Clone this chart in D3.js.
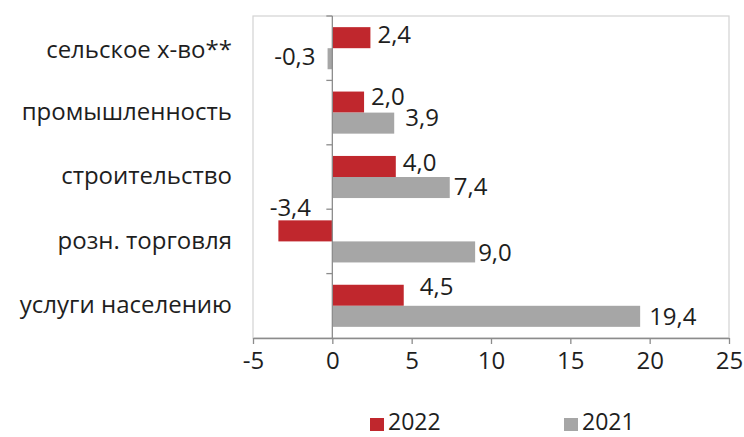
<!DOCTYPE html>
<html><head><meta charset="utf-8">
<script src="https://cdn.jsdelivr.net/npm/d3@7/dist/d3.min.js"></script>
<style>
html,body{margin:0;padding:0;background:#fff;}
svg{display:block;font-family:"Open Sans",sans-serif;}
</style></head>
<body>
<svg id="chart" width="744" height="437"></svg>
<script>
const categories = ["сельское х-во**","промышленность","строительство","розн. торговля","услуги населению"];
const seriesNames = ["2022","2021"];
const values2022 = [2.4, 2.0, 4.0, -3.4, 4.5];
const values2021 = [-0.3, 3.9, 7.4, 9.0, 19.4];
const xTicks = [-5,0,5,10,15,20,25];

// label nudges (layout only)
const nudge2022 = [[0,-3],[0,-6],[0,-4],[null,-24],[9,-9]];
const nudge2021 = [[5,-2],[4,-6],[-3,-1],[-4,0],[2,0]];

const colors = {"2022":"#c0272d","2021":"#a6a6a6"};
const pL=253,pR=729,pT=16,pB=338;
const svg=d3.select("#chart");
const fs=24;

const x=d3.scaleLinear().domain([-5,25]).range([pL,pR]);
const y=d3.scaleBand().domain(categories).range([pT,pB]).paddingInner(0).paddingOuter(0);
const yi=d3.scaleBand().domain(seriesNames).range([0,y.bandwidth()]).paddingInner(0).paddingOuter(0.53);

// frame
svg.append("rect").attr("x",pL).attr("y",pT).attr("width",pR-pL).attr("height",pB-pT)
  .attr("fill","none").attr("stroke","#d3d3d3").attr("stroke-width",1.2);

const series=[{name:"2022",vals:values2022,nudge:nudge2022},{name:"2021",vals:values2021,nudge:nudge2021}];
const fmt=v=>d3.format(".1f")(v).replace(".",",").replace("−","-");

series.forEach(s=>{
  const g=svg.append("g");
  g.selectAll("rect").data(categories).join("rect")
    .attr("x",(c,i)=>x(Math.min(0,s.vals[i])))
    .attr("width",(c,i)=>Math.abs(x(s.vals[i])-x(0)))
    .attr("y",c=>y(c)+yi(s.name))
    .attr("height",yi.bandwidth())
    .attr("fill",colors[s.name]);
  g.selectAll("text").data(categories).join("text")
    .attr("font-size",fs).attr("fill","#1e1e1e")
    .each(function(c,i){
      const v=s.vals[i], n=s.nudge[i];
      const cy=y(c)+yi(s.name)+yi.bandwidth()/2+n[1];
      const t=d3.select(this).text(fmt(v)).attr("y",cy).attr("dy","0.36em");
      if(n[0]===null){
        t.attr("x",(x(v)+x(0))/2 - 15).attr("text-anchor","middle");
      } else if(v>=0){
        t.attr("x",x(v)+7+n[0]).attr("text-anchor","start");
      } else {
        t.attr("x",x(v)-7-n[0]).attr("text-anchor","end");
      }
    });
});

// zero line with ticks at category boundaries
svg.append("line").attr("x1",x(0)).attr("x2",x(0)).attr("y1",pT).attr("y2",pB)
  .attr("stroke","#8c8c8c").attr("stroke-width",1.3);
svg.append("g").selectAll("line").data(categories).join("line")
  .attr("x1",x(0)-6).attr("x2",x(0)).attr("y1",c=>y(c)).attr("y2",c=>y(c))
  .attr("stroke","#8c8c8c").attr("stroke-width",1.3);

// category labels
svg.append("g").selectAll("text").data(categories).join("text")
  .attr("x",232).attr("y",(c,i)=>y(c)+y.bandwidth()/2+(i===0?3:0)).attr("dy","0.3em")
  .attr("text-anchor","end").attr("font-size",fs).attr("fill","#1e1e1e")
  .text(c=>c);

// x axis
const ax=svg.append("g").attr("transform",`translate(0,${pB})`)
  .call(d3.axisBottom(x).tickValues(xTicks).tickSize(6).tickSizeOuter(0).tickFormat(d=>String(d)));
ax.select(".domain").attr("stroke","#8c8c8c").attr("stroke-width",1.3);
ax.selectAll(".tick line").attr("stroke","#8c8c8c").attr("stroke-width",1.3);
ax.selectAll(".tick text").attr("font-size",fs).attr("fill","#1e1e1e")
  .attr("font-family","'Open Sans',sans-serif").attr("y",14).attr("dy","0.71em");

// legend
const legX=[370,564];
const lg=svg.append("g");
seriesNames.forEach((n,i)=>{
  lg.append("rect").attr("x",legX[i]).attr("y",418).attr("width",14).attr("height",13).attr("fill",colors[n]);
  lg.append("text").attr("x",legX[i]+18).attr("y",422).attr("dy","0.36em")
    .attr("font-size",23).attr("fill","#1e1e1e").text(n);
});
</script>
</body></html>
